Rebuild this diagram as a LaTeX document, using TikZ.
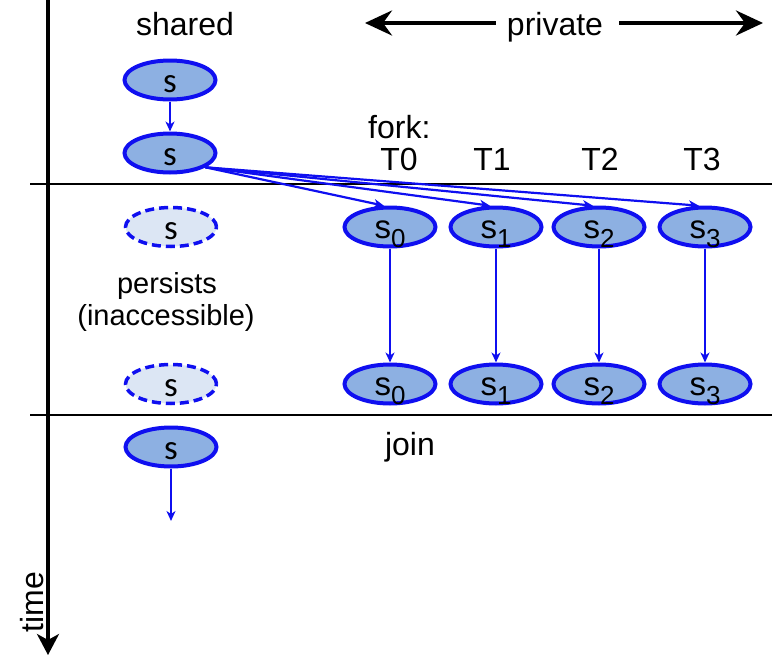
\documentclass[tikz,border=0pt]{standalone}
\usepackage{fontspec}
\setmainfont{Liberation Sans}
\newfontfamily\calib{Carlito}
\usetikzlibrary{shapes.geometric,arrows.meta,calc}

\definecolor{eblue}{RGB}{15,15,240}
\definecolor{efill}{RGB}{141,176,226}
\definecolor{epale}{RGB}{220,230,244}

\newcommand{\sub}[2]{#1\raisebox{-9pt}{\fontsize{26}{26}\selectfont #2}}

\begin{document}
\begin{tikzpicture}[x=1pt,y=-1pt,
  state/.style={ellipse, draw=eblue, line width=4pt, fill=efill,
    minimum width=91pt, minimum height=39pt, inner sep=0pt},
  ghost/.style={state, line width=3.5pt, fill=epale, dash pattern=on 9pt off 5pt},
  flow/.style={draw=eblue, line width=2.2pt,
    -{Stealth[length=10pt,width=9pt,inset=3pt]}},
  rule/.style={draw=black, line width=2.5pt},
  bigarrow/.style={draw=black, line width=4pt,
    -{Stealth[length=27pt,width=25pt,inset=9pt]}},
  word/.style={font=\fontsize{32}{36}\selectfont, inner sep=0pt, anchor=base},
  note/.style={word, font=\fontsize{29}{33}\selectfont},
  sname/.style={word, font=\fontsize{33}{36}\selectfont},
  cname/.style={word, font=\calib\fontsize{35}{36}\selectfont},
]
\useasboundingbox (0,0) rectangle (772,656);

% time axis and phase separators
\coordinate (ta) at (48,0);
\coordinate (tb) at (48,655);
\draw[draw=black, line width=3.3pt,
  -{Stealth[length=21pt,width=22pt,inset=6pt]}] (ta) -- (tb);
\node[word, rotate=90] (time) at (43,602) {time};

\coordinate (h1a) at (30,184);
\coordinate (h1b) at (772,184);
\coordinate (h2a) at (30,415);
\coordinate (h2b) at (772,415);
\draw[rule] (h1a) -- (h1b);
\draw[rule] (h2a) -- (h2b);

% column headings
\node[word] (shared) at (185,35) {shared};
\node[word] (priv) at (555,35) {private};
\coordinate (privL) at (365,23);
\coordinate (privR) at (763,23);
\draw[bigarrow] ([xshift=-11pt,yshift=12pt]priv.base west) -- (privL);
\draw[bigarrow] ([xshift=16pt,yshift=12pt]priv.base east) -- (privR);

\node[word, anchor=base west] (fork) at (368,138) {fork:};
\node[word] (t0) at (399,170) {T0};
\node[word] (t1) at (492,170) {T1};
\node[word] (t2) at (600,170) {T2};
\node[word] (t3) at (702,170) {T3};

\node[note] (persists) at (167,293) {persists};
\node[note] (inacc) at (166,325) {(inaccessible)};
\node[word] (join) at (410,455) {join};

% shared state
\node[state] (sh1) at (170,80) {};
\node[state] (sh2) at (170,153) {};
\node[ghost] (g1) at (171,227) {};
\node[ghost] (g2) at (171,384) {};
\node[state] (sh3) at (171,447) {};
\coordinate (shend) at (171,521);

\node[cname] (lsh1) at ([yshift=-12pt]sh1.center) {s};
\node[cname] (lsh2) at ([yshift=-12pt]sh2.center) {s};
\node[cname] (lg1) at ([yshift=-12pt]g1.center) {s};
\node[cname] (lg2) at ([yshift=-12pt]g2.center) {s};
\node[cname] (lsh3) at ([yshift=-12pt]sh3.center) {s};

\draw[flow] (sh1) -- (sh2);
\draw[flow] (sh3) -- (shend);

% private copies per thread
\foreach \i/\x in {0/390,1/496,2/599,3/705} {
  \node[state] (p\i) at (\x,227) {};
  \node[state] (q\i) at (\x,384) {};
  \node[sname] (lp\i) at ([yshift=-11pt]p\i.center) {\sub{s}{\i}};
  \node[sname] (lq\i) at ([yshift=-11pt]q\i.center) {\sub{s}{\i}};
  \draw[flow] (p\i) -- (q\i);
  \draw[flow] (sh2.-22) -- (p\i.106);
}
\end{tikzpicture}
\end{document}
